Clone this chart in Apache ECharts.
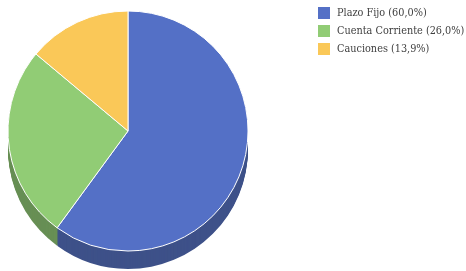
<!DOCTYPE html>
<html>
<head>
<meta charset="utf-8">
<script src="https://cdn.jsdelivr.net/npm/echarts@6/dist/echarts.min.js"></script>
<style>
    html, body {margin: 0; padding: 0; background: #fff;}
    #chart {width: 466px; height: 271px;}
</style>
</head>
<body>
<div id="chart"></div>
<script>
// datos
const categories = ['Plazo Fijo', 'Cuenta Corriente', 'Cauciones'];
const values = [60.0, 26.0, 13.9];
const topColors = ['#5470c6', '#91cc75', '#fac858'];
const sideColors = ['#3e5189', '#688f55', '#b89340'];

const chart = echarts.init(document.getElementById('chart'));

const pieData = colors => categories.map((name, i) => ({
    name,
    value: values[i],
    itemStyle: {color: colors[i]}
}));

//cara superior
const series = [{
    type: 'pie',
    name: 'top',
    z: 3,
    center: [128, 131],
    radius: 120,
    startAngle: 90,
    clockwise: true,
    animation: false,
    label: {show: false},
    labelLine: {show: false},
    emphasis: {disabled: true},
    itemStyle: {borderColor: '#ffffff', borderWidth: 1},
    data: pieData(topColors)
}];

//lateral (efecto 3d)
const depth = 18;
for (let d = depth; d >= 1; d--) {
    series.push({
        type: 'pie',
        name: 'side' + d,
        z: 2,
        silent: true,
        legendHoverLink: false,
        center: [128, 131 + d],
        radius: 120,
        startAngle: 90,
        clockwise: true,
        animation: false,
        label: {show: false},
        labelLine: {show: false},
        emphasis: {disabled: true},
        data: pieData(sideColors)
    });
}

const option = {
    legend: {
        orient: 'vertical',
        left: 318,
        top: 7,
        padding: 0,
        itemWidth: 12,
        itemHeight: 12,
        itemGap: 6,
        icon: 'rect',
        itemStyle: {borderWidth: 0},
        data: categories,
        textStyle: {
            fontFamily: '"DejaVu Serif Condensed", "DejaVu Serif"',
            fontSize: 10.8,
            color: '#404040',
            padding: [0, 0, 0, 2]
        },
        formatter: name => {
            const v = values[categories.indexOf(name)];
            return `${name} (${v.toFixed(1).replace('.', ',')}%)`;
        }
    },
    series
};

chart.setOption(option);
</script>
</body>
</html>
